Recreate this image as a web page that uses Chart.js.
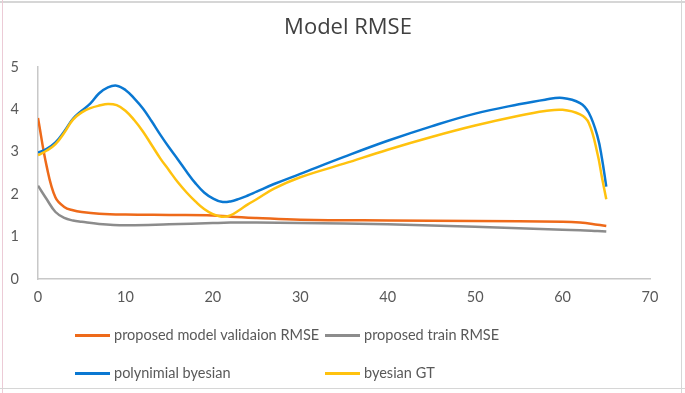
<!DOCTYPE html>
<html>
<head>
<meta charset="utf-8">
<script src="https://cdn.jsdelivr.net/npm/chart.js@4.4.1/dist/chart.umd.min.js"></script>
<style>
  html, body { margin: 0; padding: 0; background: #fff; }
  #wrap { position: relative; width: 685px; height: 393px; overflow: hidden; font-family: Lato, "Open Sans", sans-serif; }
  #myChart { position: absolute; left: 0; top: 0; }
  .frame { position: absolute; background: #d6d6d6; }
  .leg { position: absolute; font-size: 14.5px; color: #595959; white-space: nowrap; line-height: 18px; }
  .leg span { display: inline-block; width: 35px; height: 3px; vertical-align: middle; margin-right: 4px; position: relative; top: -1px; }
</style>
</head>
<body>
<div id="wrap">
  <canvas id="myChart" width="685" height="393"></canvas>
  <div class="frame" style="left:0;top:1px;width:685px;height:2px;"></div>
  <div class="frame" style="left:2px;top:0;width:1px;height:393px;background:#eccbd6;"></div>
  <div class="frame" style="left:681px;top:0;width:1px;height:393px;"></div>
  <div class="frame" style="left:0;top:388px;width:685px;height:1px;"></div>
  <div class="leg" style="left:75px;top:326px;"><span style="background:#ee6a1a"></span>proposed model validaion RMSE</div>
  <div class="leg" style="left:325px;top:326px;"><span style="background:#8c8c8c"></span>proposed train RMSE</div>
  <div class="leg" style="left:75px;top:364px;"><span style="background:#0a78d2"></span>polynimial byesian</div>
  <div class="leg" style="left:325px;top:364px;"><span style="background:#ffc20e"></span>byesian GT</div>
</div>
<script>
// les données ---------------------------------------------------

const xBayes = [0, 1, 2, 3, 4, 5, 6, 7, 8, 9, 10, 11, 12, 13, 14, 15, 16, 17, 18, 19, 20, 21, 22, 23, 24, 25, 27, 30, 35, 40, 45, 50, 55, 58, 60, 62, 63, 64, 64.5, 65];
const polyBayes = [2.98, 3.07, 3.22, 3.48, 3.78, 3.97, 4.14, 4.38, 4.52, 4.56, 4.46, 4.26, 4.02, 3.72, 3.40, 3.10, 2.82, 2.53, 2.26, 2.04, 1.90, 1.82, 1.83, 1.89, 1.97, 2.06, 2.24, 2.48, 2.88, 3.26, 3.60, 3.90, 4.12, 4.23, 4.27, 4.15, 3.92, 3.36, 2.85, 2.18];
const bayesGT = [2.92, 3.03, 3.18, 3.45, 3.76, 3.93, 4.03, 4.09, 4.13, 4.10, 3.97, 3.75, 3.48, 3.16, 2.84, 2.56, 2.28, 2.04, 1.83, 1.65, 1.53, 1.47, 1.50, 1.62, 1.76, 1.88, 2.13, 2.40, 2.72, 3.05, 3.35, 3.62, 3.85, 3.96, 3.99, 3.88, 3.68, 2.95, 2.40, 1.88];

const xProposed = [0, 1, 2, 3, 4, 5, 7, 10, 15, 20, 22, 25, 30, 40, 50, 60, 62, 64, 65];
const validRMSE = [3.80, 2.65, 1.92, 1.70, 1.62, 1.58, 1.54, 1.52, 1.51, 1.50, 1.47, 1.44, 1.40, 1.38, 1.37, 1.35, 1.33, 1.28, 1.25];
const trainRMSE = [2.20, 1.88, 1.58, 1.44, 1.38, 1.35, 1.30, 1.27, 1.29, 1.32, 1.33, 1.33, 1.32, 1.29, 1.23, 1.16, 1.15, 1.13, 1.12];

const xTicks = [0, 10, 20, 30, 40, 50, 60, 70];
const yTicks = [0, 1, 2, 3, 4, 5];

// les fonctions ---------------------------------------------------

function toPoints(xs, ys) {
    return xs.map((x, i) => ({ x: x, y: ys[i] }));
}

function serie(label, xs, ys, color) {
    return {
        label: label,
        data: toPoints(xs, ys),
        borderColor: color,
        backgroundColor: color,
        borderWidth: 2.5,
        pointRadius: 0,
        showLine: true,
        tension: 0.4
    };
}

// titre dessiné à la main : centré sur 348px comme dans Excel
const titrePlugin = {
    id: 'titre',
    afterDraw(chart) {
        const c = chart.ctx;
        c.save();
        c.fillStyle = '#404040';
        c.font = '22px "Open Sans", Lato, sans-serif';
        c.textAlign = 'center';
        c.textBaseline = 'middle';
        c.fillText('Model RMSE', 348, 28);
        c.restore();
    }
};

const ctx = document.getElementById('myChart');

new Chart(ctx, {
    type: 'scatter',
    data: {
        datasets: [
            serie('byesian GT', xBayes, bayesGT, '#ffc20e'),
            serie('polynimial byesian', xBayes, polyBayes, '#0a78d2'),
            serie('proposed train RMSE', xProposed, trainRMSE, '#8c8c8c'),
            serie('proposed model validaion RMSE', xProposed, validRMSE, '#ee6a1a')
        ]
    },
    plugins: [titrePlugin],
    options: {
        responsive: false,
        animation: false,
        layout: { padding: { left: 0, right: 35, top: 67, bottom: 0 } },
        plugins: {
            legend: { display: false },
            tooltip: { enabled: false }
        },
        scales: {
            x: {
                type: 'linear',
                min: 0,
                max: 70,
                afterBuildTicks: (axis) => { axis.ticks = xTicks.map(v => ({ value: v })); },
                afterFit: (axis) => { axis.height = 114; },
                grid: { display: false, drawTicks: false },
                border: { color: '#c8c8c8', width: 1.5 },
                ticks: { color: '#595959', font: { family: 'Lato, "Open Sans", sans-serif', size: 14.5 }, padding: 10, maxRotation: 0 }
            },
            y: {
                type: 'linear',
                min: 0,
                max: 5,
                afterBuildTicks: (axis) => { axis.ticks = yTicks.map(v => ({ value: v })); },
                afterFit: (axis) => { axis.width = 38; },
                grid: { display: false, drawTicks: false },
                border: { color: '#c8c8c8', width: 1.5 },
                ticks: { color: '#595959', font: { family: 'Lato, "Open Sans", sans-serif', size: 14.5 }, padding: 19 }
            }
        }
    }
});
</script>
</body>
</html>
